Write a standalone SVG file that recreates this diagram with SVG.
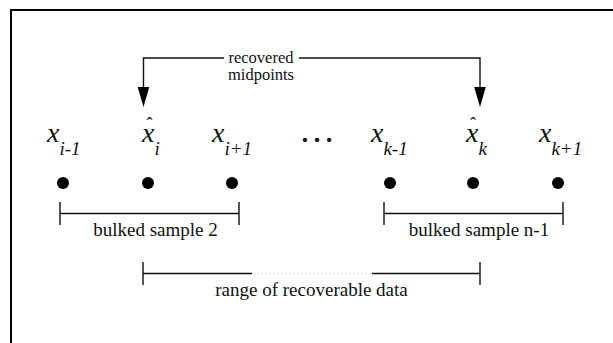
<svg xmlns="http://www.w3.org/2000/svg" width="613" height="343" viewBox="0 0 613 343" font-family="'Liberation Serif', 'DejaVu Serif', serif">
  <style>
    text { font-family: "Liberation Serif", "DejaVu Serif", serif; fill: #111; }
    .lbl { font-size: 19px; }
    .top { font-size: 16.5px; }
    .var { font-style: italic; font-size: 28px; }
    .sub { font-size: 19px; }
    .hat { font-size: 18px; font-style: normal; }
    .dot { fill: #000; }
    .ln { stroke: #111; stroke-width: 1.4; fill: none; }
    .dotted { stroke: #c4c4c4; stroke-width: 1.2; stroke-dasharray: 1 3; fill: none; }
  </style>

  <rect width="613" height="343" fill="#fff"/>

  <!-- outer frame, running off the right and bottom edges -->
  <path d="M11,343 V10 H613" stroke="#000" stroke-width="2" fill="none"/>

  <g id="connectors">
    <!-- bracket arrows to the recovered midpoints -->
    <path class="ln" d="M224,58 H143.5 V87"/>
    <path d="M137.7,87 L149.3,87 L143.5,107 Z" fill="#000"/>
    <path class="ln" d="M299,58 H480 V87"/>
    <path d="M474.2,87 L485.8,87 L480,107 Z" fill="#000"/>

    <!-- bulked sample 2 span -->
    <path class="ln" d="M60,202 V225 M60,213.5 H239 M239,202 V225"/>
    <!-- bulked sample n-1 span -->
    <path class="ln" d="M384,202 V225 M384,213.5 H563 M563,202 V225"/>

    <!-- range of recoverable data span -->
    <path class="ln" d="M143,262 V285 M143,273.5 H252 M372,273.5 H480 M480,262 V285"/>
    <path class="dotted" d="M254,273.5 H371"/>
  </g>

  <g id="label-midpoints">
    <text class="top" text-anchor="middle"><tspan x="261" y="63">recovered</tspan><tspan x="261" y="80">midpoints</tspan></text>
  </g>

  <g id="node-x-i-minus-1">
    <text class="var" x="47" y="142">x<tspan class="sub" dy="13">i-1</tspan></text>
    <circle class="dot" cx="63" cy="183" r="6"/>
  </g>
  <g id="node-xhat-i">
    <text class="var" x="142" y="142">x<tspan class="sub" dy="13">i</tspan><tspan class="hat" x="146.5" y="130">ˆ</tspan></text>
    <circle class="dot" cx="148" cy="183" r="6"/>
  </g>
  <g id="node-x-i-plus-1">
    <text class="var" x="212" y="142">x<tspan class="sub" dy="13">i+1</tspan></text>
    <circle class="dot" cx="232" cy="183" r="6"/>
  </g>

  <g id="ellipsis">
    <text x="299" y="142" font-size="36">…</text>
  </g>

  <g id="node-x-k-minus-1">
    <text class="var" x="371" y="142">x<tspan class="sub" dy="13">k-1</tspan></text>
    <circle class="dot" cx="390" cy="183" r="6"/>
  </g>
  <g id="node-xhat-k">
    <text class="var" x="466" y="142">x<tspan class="sub" dy="13">k</tspan><tspan class="hat" x="470" y="130">ˆ</tspan></text>
    <circle class="dot" cx="473" cy="183" r="6"/>
  </g>
  <g id="node-x-k-plus-1">
    <text class="var" x="539" y="142">x<tspan class="sub" dy="13">k+1</tspan></text>
    <circle class="dot" cx="558" cy="183" r="6"/>
  </g>

  <g id="label-bulked-2">
    <text class="lbl" x="155.5" y="236" text-anchor="middle">bulked sample 2</text>
  </g>
  <g id="label-bulked-n-1">
    <text class="lbl" x="479" y="236" text-anchor="middle">bulked sample n-1</text>
  </g>
  <g id="label-range">
    <text class="lbl" x="311.5" y="296" text-anchor="middle">range of recoverable data</text>
  </g>
</svg>
